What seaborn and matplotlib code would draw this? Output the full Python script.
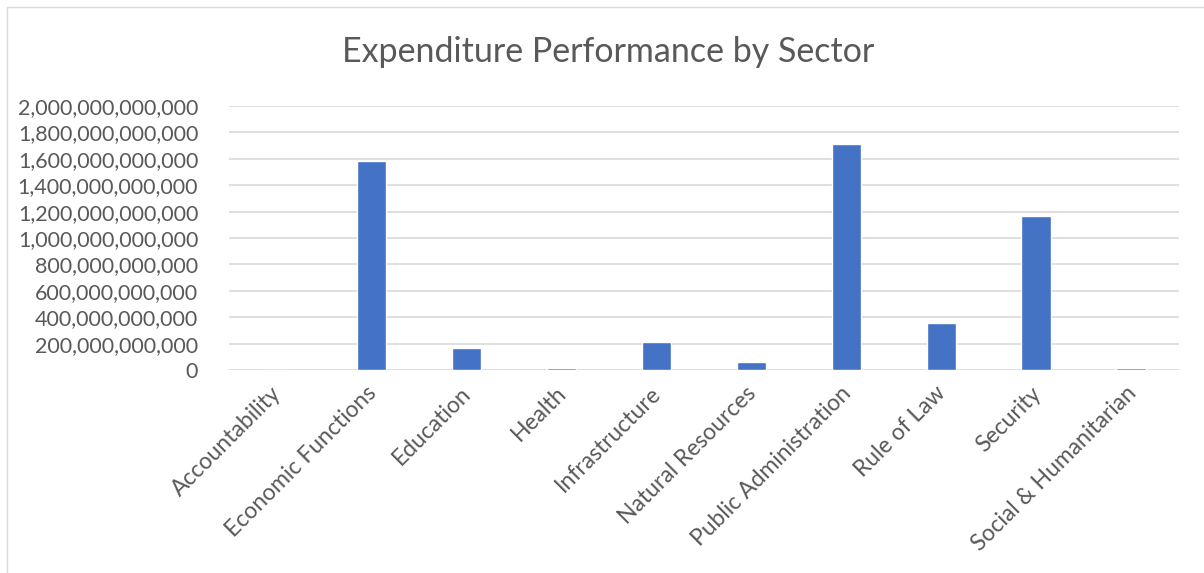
import pandas as pd
import seaborn as sns
import matplotlib.pyplot as plt
import matplotlib.transforms as mtransforms
from matplotlib.patches import Rectangle
from matplotlib.ticker import FuncFormatter

sectors = ["Accountability", "Economic Functions", "Education", "Health", "Infrastructure",
           "Natural Resources", "Public Administration", "Rule of Law", "Security",
           "Social & Humanitarian"]
spending = [3e9, 1587e9, 164e9, 20e9, 210e9, 58e9, 1712e9, 356e9, 1168e9, 17e9]

df = pd.DataFrame({"sector": sectors, "spending": spending})

sns.set_style("white")
plt.rcParams['font.family'] = ['Lato', 'DejaVu Sans']

fig = plt.figure(figsize=(12.04, 5.73), dpi=100)
ax = fig.add_axes([0.19, 0.354, 0.789, 0.461])

sns.barplot(data=df, x="sector", y="spending", color="#4472C4", width=0.31,
            saturation=1, ax=ax, zorder=3)

ax.set_ylim(0, 2e12)
ax.set_yticks([i * 2e11 for i in range(11)])
ax.yaxis.set_major_formatter(FuncFormatter(lambda v, p: f"{v:,.0f}"))
ax.grid(axis="y", color="#d9d9d9", linewidth=1.2, zorder=0)
for s in ax.spines.values():
    s.set_visible(False)
ax.tick_params(axis="both", length=0, labelcolor="#595959")
ax.tick_params(axis="y", pad=22, labelsize=15.5)
ax.tick_params(axis="x", pad=9, labelsize=16.5)
# nudge the rotated labels a little left so their ends sit under the bars
shift = mtransforms.ScaledTranslation(-6 / 100, 0, fig.dpi_scale_trans)
for lbl in ax.get_xticklabels():
    lbl.set_rotation(45)
    lbl.set_ha("right")
    lbl.set_rotation_mode("anchor")
    lbl.set_transform(lbl.get_transform() + shift)
ax.set_xlabel("")
ax.set_ylabel("")

fig.text(0.505, 0.909, "Expenditure Performance by Sector", ha="center", va="center",
         fontsize=24.5, color="#595959")

# chart area border
fig.patches.append(Rectangle((0.006, -0.01), 1.0, 0.998, transform=fig.transFigure,
                             fill=False, edgecolor="#d9d9d9", linewidth=1))

fig.savefig("out.png", dpi=100)
